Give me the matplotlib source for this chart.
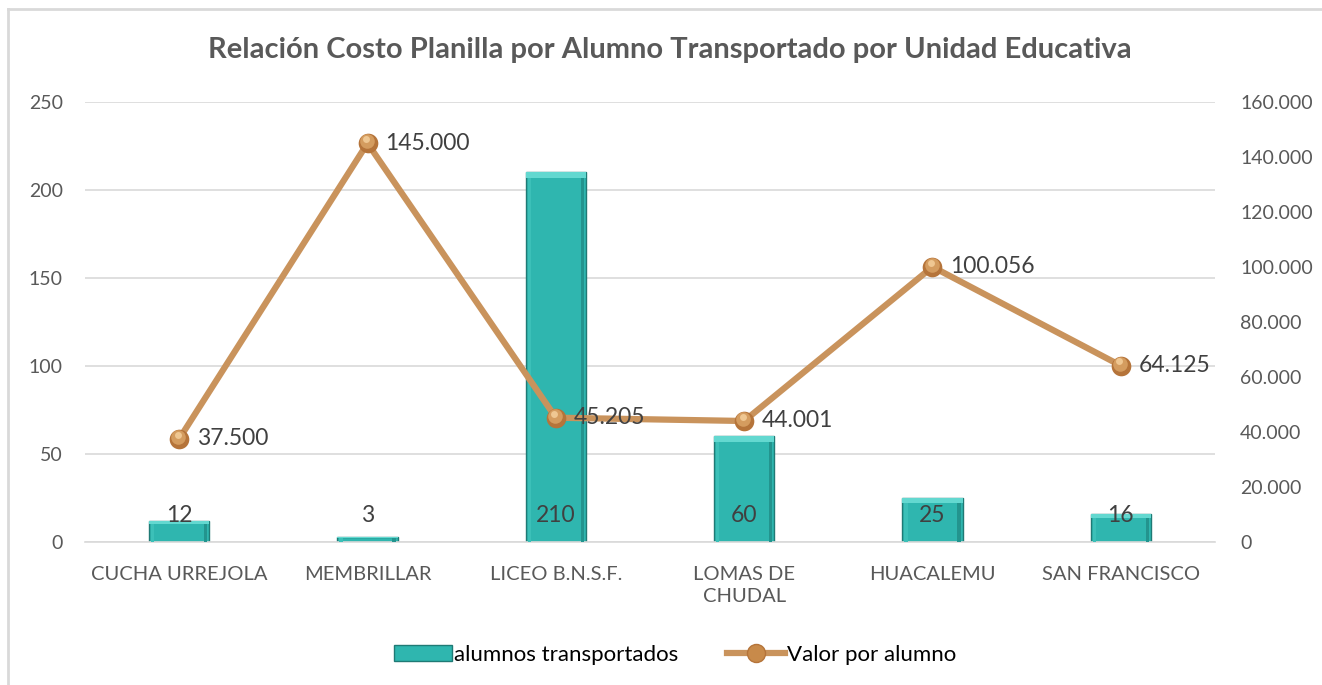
import matplotlib
matplotlib.use("Agg")
import matplotlib.pyplot as plt
from matplotlib.lines import Line2D
from matplotlib.patches import Patch
from matplotlib.ticker import FuncFormatter, MultipleLocator
from matplotlib.transforms import offset_copy
import numpy as np

# Data
categories = ["CUCHA URREJOLA", "MEMBRILLAR", "LICEO B.N.S.F.", "LOMAS DE\nCHUDAL",
              "HUACALEMU", "SAN FRANCISCO"]
alumnos = [12, 3, 210, 60, 25, 16]
valor_por_alumno = [37500, 145000, 45205, 44001, 100056, 64125]

title = "Relación Costo Planilla por Alumno Transportado por Unidad Educativa"
bar_label = "alumnos transportados"
line_label = "Valor por alumno"

plt.rcParams["font.family"] = ["Lato", "DejaVu Sans"]

W, H = 1322, 685
fig = plt.figure(figsize=(W / 100, H / 100), dpi=100)
fig.patch.set_facecolor("white")

# frame of the chart area (cut off on right and bottom)
fig.add_artist(Line2D([8 / W, 1.0], [1 - 9 / H, 1 - 9 / H], color="#D9D9D9", lw=2))
fig.add_artist(Line2D([8 / W, 8 / W], [0.0, 1 - 9 / H], color="#D9D9D9", lw=2))

ax = fig.add_axes([85 / W, (H - 542) / H, (1215 - 85) / W, (542 - 102) / H])
ax2 = ax.twinx()

x = np.arange(len(categories))
text_col = "#595959"
label_col = "#404040"

# bars with a simple bevel look
bars = ax.bar(x, alumnos, width=0.32, color="#2FB6AF", edgecolor="#1F7A75",
              linewidth=1.0, zorder=2)
for b in bars:
    bx, bw, bh = b.get_x(), b.get_width(), b.get_height()
    inset = min(bh * 0.15, 3)
    ax.bar(bx + bw / 2, inset, width=bw, bottom=bh - inset, color="#63D8D0",
           linewidth=0, zorder=3)
    ax.bar(bx + bw * 0.03, bh - inset, width=bw * 0.06, color="#3CC0B8",
           linewidth=0, zorder=3, align="edge")
    ax.bar(bx + bw * 0.91, bh - inset, width=bw * 0.06, color="#23948E",
           linewidth=0, zorder=3, align="edge")

for xi, v in zip(x, alumnos):
    ax.annotate(f"{v}", (xi, 0), xytext=(0, 19), textcoords="offset points",
                ha="center", va="center", fontsize=16.5, color=label_col, zorder=6)

ax.set_ylim(0, 250)
ax.yaxis.set_major_locator(MultipleLocator(50))
ax.set_xlim(-0.5, len(categories) - 0.5)
ax.set_xticks(x)
ax.set_xticklabels(categories, fontsize=14.5, color=text_col, linespacing=1.4)
ax.grid(axis="y", color="#D9D9D9", lw=1.2, zorder=0)
ax.set_axisbelow(True)
ax.tick_params(axis="y", length=0, labelsize=14, labelcolor=text_col, pad=16)
ax.tick_params(axis="x", length=0, pad=17)
for s in ["top", "left", "right"]:
    ax.spines[s].set_visible(False)
ax.spines["bottom"].set_color("#D9D9D9")
ax.spines["bottom"].set_linewidth(1.2)

# line on the secondary axis, spherical markers
ax2.plot(x, valor_por_alumno, color="#C9935C", lw=4.5, zorder=4,
         solid_capstyle="round")
ax2.scatter(x, valor_por_alumno, s=200, color="#B5743A", linewidth=0, zorder=5)
hi = offset_copy(ax2.transData, fig=fig, x=-0.5, y=1.5, units="points")
ax2.scatter(x, valor_por_alumno, s=110, color="#D49C5F", linewidth=0, zorder=6,
            transform=hi)
hi2 = offset_copy(ax2.transData, fig=fig, x=-1, y=3, units="points")
ax2.scatter(x, valor_por_alumno, s=25, color="#EFC792", linewidth=0, zorder=7,
            transform=hi2)

thousands = lambda v: f"{v:,.0f}".replace(",", ".")
for xi, v in zip(x, valor_por_alumno):
    ax2.annotate(thousands(v), (xi, v), xytext=(13, 0), textcoords="offset points",
                 ha="left", va="center", fontsize=16.5, color=label_col, zorder=8)

ax2.set_ylim(0, 160000)
ax2.yaxis.set_major_locator(MultipleLocator(20000))
ax2.yaxis.set_major_formatter(FuncFormatter(lambda v, p: thousands(v)))
ax2.tick_params(axis="y", length=0, labelsize=14, labelcolor=text_col, pad=18)
for s in ["top", "left", "right", "bottom"]:
    ax2.spines[s].set_visible(False)
ax.set_zorder(ax2.get_zorder() - 1)
ax.patch.set_visible(False)
ax2.patch.set_visible(False)

fig.text((85 + 1255) / 2 / W, 1 - 50 / H, title, ha="center", va="center",
         fontsize=21, fontweight="bold", color=text_col)

handles = [Patch(facecolor="#2FB6AF", edgecolor="#1F7A75", label=bar_label),
           Line2D([], [], color="#C9935C", lw=4.5, marker="o", markersize=13,
                  markerfacecolor="#C88A4A", markeredgecolor="#B5743A",
                  label=line_label)]
fig.legend(handles=handles, loc="center", bbox_to_anchor=(675 / W, 1 - 655 / H),
           ncol=2, frameon=False, fontsize=16, handlelength=2.6,
           columnspacing=2.2, handletextpad=0.1, labelcolor="#000000")

fig.savefig("out.png", dpi=100, facecolor="white")
